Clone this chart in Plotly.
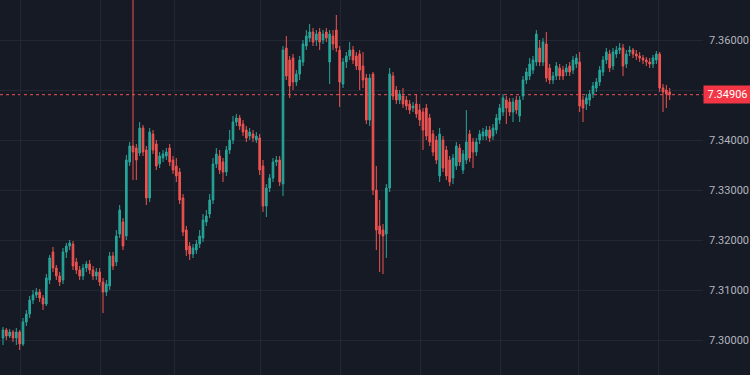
import plotly.graph_objects as go

bar_index = list(range(201))

opens = [
    7.3004, 7.3020, 7.3008, 7.3016, 7.3004, 7.3016, 7.2992, 7.3036, 7.3052, 7.3080,
    7.3090, 7.3096, 7.3084, 7.3072, 7.3120, 7.3176, 7.3144, 7.3128, 7.3120, 7.3176,
    7.3188, 7.3192, 7.3156, 7.3140, 7.3128, 7.3144, 7.3152, 7.3140, 7.3128, 7.3136,
    7.3116, 7.3096, 7.3108, 7.3168, 7.3156, 7.3212, 7.3236, 7.3208, 7.3356, 7.3388,
    7.3384, 7.3374, 7.3424, 7.3380, 7.3284, 7.3412, 7.3392, 7.3352, 7.3364, 7.3368,
    7.3384, 7.3360, 7.3348, 7.3336, 7.3284, 7.3220, 7.3188, 7.3172, 7.3180, 7.3192,
    7.3204, 7.3236, 7.3252, 7.3280, 7.3352, 7.3368, 7.3356, 7.3336, 7.3380, 7.3400,
    7.3436, 7.3444, 7.3432, 7.3420, 7.3408, 7.3412, 7.3400, 7.3404, 7.3348, 7.3268,
    7.3304, 7.3324, 7.3356, 7.3360, 7.3312, 7.3584, 7.3560, 7.3564, 7.3516, 7.3532,
    7.3556, 7.3588, 7.3604, 7.3616, 7.3600, 7.3616, 7.3600, 7.3616, 7.3556, 7.3608,
    7.3620, 7.3580, 7.3512, 7.3556, 7.3568, 7.3580, 7.3568, 7.3572, 7.3548, 7.3524,
    7.3440, 7.3532, 7.3300, 7.3228, 7.3220, 7.3212, 7.3304, 7.3528, 7.3500, 7.3480,
    7.3488, 7.3480, 7.3472, 7.3464, 7.3472, 7.3460, 7.3456, 7.3464, 7.3444, 7.3412,
    7.3400, 7.3328, 7.3400, 7.3380, 7.3360, 7.3324, 7.3348, 7.3384, 7.3340, 7.3360,
    7.3412, 7.3396, 7.3376, 7.3400, 7.3408, 7.3408, 7.3420, 7.3408, 7.3420, 7.3440,
    7.3456, 7.3480, 7.3476, 7.3456, 7.3480, 7.3448, 7.3488, 7.3520, 7.3528, 7.3540,
    7.3556, 7.3584, 7.3556, 7.3592, 7.3544, 7.3520, 7.3528, 7.3544, 7.3540, 7.3536,
    7.3548, 7.3540, 7.3552, 7.3556, 7.3480, 7.3472, 7.3480, 7.3492, 7.3504, 7.3516,
    7.3536, 7.3560, 7.3572, 7.3548, 7.3572, 7.3580, 7.3584, 7.3552, 7.3576, 7.3580,
    7.3572, 7.3568, 7.3564, 7.3560, 7.3556, 7.3552, 7.3560, 7.3572, 7.3504, 7.3500,
    7.3496,
]

highs = [
    7.3026, 7.3024, 7.3022, 7.3020, 7.3024, 7.3020, 7.3044, 7.3060, 7.3088, 7.3100,
    7.3104, 7.3102, 7.3090, 7.3132, 7.3170, 7.3186, 7.3150, 7.3136, 7.3184, 7.3194,
    7.3200, 7.3198, 7.3164, 7.3148, 7.3152, 7.3158, 7.3160, 7.3148, 7.3144, 7.3144,
    7.3124, 7.3120, 7.3176, 7.3176, 7.3220, 7.3270, 7.3244, 7.3370, 7.3396, 7.3800,
    7.3392, 7.3436, 7.3430, 7.3388, 7.3424, 7.3420, 7.3400, 7.3376, 7.3380, 7.3384,
    7.3392, 7.3368, 7.3364, 7.3344, 7.3292, 7.3228, 7.3196, 7.3192, 7.3200, 7.3220,
    7.3252, 7.3260, 7.3292, 7.3364, 7.3384, 7.3380, 7.3364, 7.3388, 7.3420, 7.3448,
    7.3452, 7.3450, 7.3440, 7.3428, 7.3424, 7.3420, 7.3416, 7.3412, 7.3360, 7.3312,
    7.3332, 7.3364, 7.3368, 7.3368, 7.3588, 7.3608, 7.3568, 7.3572, 7.3540, 7.3568,
    7.3600, 7.3620, 7.3632, 7.3624, 7.3620, 7.3624, 7.3620, 7.3624, 7.3620, 7.3620,
    7.3650, 7.3588, 7.3564, 7.3576, 7.3596, 7.3588, 7.3576, 7.3580, 7.3576, 7.3532,
    7.3532, 7.3536, 7.3348, 7.3280, 7.3232, 7.3312, 7.3544, 7.3536, 7.3508, 7.3500,
    7.3504, 7.3488, 7.3480, 7.3476, 7.3492, 7.3472, 7.3464, 7.3472, 7.3452, 7.3420,
    7.3408, 7.3424, 7.3408, 7.3388, 7.3368, 7.3372, 7.3396, 7.3392, 7.3380, 7.3460,
    7.3420, 7.3404, 7.3404, 7.3420, 7.3424, 7.3428, 7.3428, 7.3432, 7.3452, 7.3472,
    7.3492, 7.3488, 7.3484, 7.3484, 7.3488, 7.3488, 7.3528, 7.3544, 7.3564, 7.3568,
    7.3620, 7.3600, 7.3604, 7.3616, 7.3552, 7.3536, 7.3556, 7.3552, 7.3548, 7.3552,
    7.3556, 7.3568, 7.3572, 7.3576, 7.3488, 7.3492, 7.3500, 7.3516, 7.3524, 7.3548,
    7.3568, 7.3584, 7.3580, 7.3584, 7.3588, 7.3594, 7.3592, 7.3580, 7.3588, 7.3584,
    7.3580, 7.3576, 7.3570, 7.3566, 7.3564, 7.3570, 7.3578, 7.3576, 7.3512, 7.3510,
    7.3504,
]

lows = [
    7.2990, 7.3000, 7.3004, 7.2996, 7.2990, 7.2980, 7.2988, 7.3028, 7.3044, 7.3072,
    7.3084, 7.3076, 7.3060, 7.3068, 7.3112, 7.3136, 7.3120, 7.3108, 7.3112, 7.3164,
    7.3180, 7.3140, 7.3132, 7.3120, 7.3120, 7.3136, 7.3132, 7.3120, 7.3120, 7.3108,
    7.3054, 7.3088, 7.3100, 7.3140, 7.3148, 7.3204, 7.3180, 7.3200, 7.3348, 7.3320,
    7.3320, 7.3368, 7.3368, 7.3270, 7.3276, 7.3372, 7.3340, 7.3344, 7.3356, 7.3360,
    7.3348, 7.3332, 7.3316, 7.3272, 7.3208, 7.3168, 7.3160, 7.3164, 7.3172, 7.3184,
    7.3196, 7.3228, 7.3244, 7.3272, 7.3344, 7.3332, 7.3316, 7.3328, 7.3372, 7.3392,
    7.3428, 7.3420, 7.3408, 7.3396, 7.3400, 7.3396, 7.3394, 7.3330, 7.3256, 7.3246,
    7.3296, 7.3316, 7.3348, 7.3308, 7.3288, 7.3520, 7.3484, 7.3500, 7.3508, 7.3520,
    7.3548, 7.3580, 7.3596, 7.3588, 7.3588, 7.3580, 7.3592, 7.3596, 7.3512, 7.3580,
    7.3576, 7.3466, 7.3504, 7.3544, 7.3560, 7.3552, 7.3540, 7.3500, 7.3504, 7.3432,
    7.3428, 7.3290, 7.3180, 7.3136, 7.3132, 7.3164, 7.3296, 7.3480, 7.3472, 7.3472,
    7.3464, 7.3460, 7.3452, 7.3456, 7.3444, 7.3428, 7.3380, 7.3400, 7.3388, 7.3368,
    7.3352, 7.3316, 7.3336, 7.3320, 7.3308, 7.3312, 7.3340, 7.3348, 7.3332, 7.3352,
    7.3356, 7.3344, 7.3368, 7.3392, 7.3400, 7.3400, 7.3396, 7.3400, 7.3412, 7.3432,
    7.3448, 7.3432, 7.3448, 7.3436, 7.3452, 7.3436, 7.3480, 7.3512, 7.3520, 7.3532,
    7.3548, 7.3548, 7.3548, 7.3516, 7.3512, 7.3512, 7.3520, 7.3520, 7.3520, 7.3528,
    7.3528, 7.3532, 7.3544, 7.3456, 7.3436, 7.3460, 7.3468, 7.3484, 7.3496, 7.3508,
    7.3528, 7.3552, 7.3536, 7.3540, 7.3564, 7.3572, 7.3528, 7.3544, 7.3568, 7.3564,
    7.3560, 7.3556, 7.3552, 7.3548, 7.3544, 7.3544, 7.3552, 7.3496, 7.3456, 7.3464,
    7.3480,
]

closes = [
    7.3020, 7.3008, 7.3016, 7.3004, 7.3016, 7.2992, 7.3036, 7.3052, 7.3080, 7.3090,
    7.3096, 7.3084, 7.3072, 7.3124, 7.3164, 7.3144, 7.3128, 7.3116, 7.3176, 7.3188,
    7.3194, 7.3148, 7.3140, 7.3128, 7.3144, 7.3152, 7.3140, 7.3128, 7.3136, 7.3116,
    7.3096, 7.3112, 7.3168, 7.3148, 7.3208, 7.3260, 7.3188, 7.3360, 7.3388, 7.3376,
    7.3360, 7.3424, 7.3376, 7.3284, 7.3416, 7.3380, 7.3348, 7.3368, 7.3372, 7.3376,
    7.3356, 7.3340, 7.3328, 7.3280, 7.3216, 7.3180, 7.3172, 7.3184, 7.3192, 7.3208,
    7.3240, 7.3248, 7.3280, 7.3352, 7.3372, 7.3340, 7.3336, 7.3380, 7.3400, 7.3436,
    7.3444, 7.3428, 7.3416, 7.3404, 7.3416, 7.3404, 7.3408, 7.3340, 7.3268, 7.3304,
    7.3324, 7.3356, 7.3360, 7.3316, 7.3580, 7.3528, 7.3508, 7.3516, 7.3532, 7.3560,
    7.3592, 7.3608, 7.3616, 7.3596, 7.3612, 7.3596, 7.3612, 7.3604, 7.3612, 7.3592,
    7.3584, 7.3516, 7.3556, 7.3568, 7.3580, 7.3560, 7.3548, 7.3540, 7.3520, 7.3440,
    7.3524, 7.3300, 7.3220, 7.3212, 7.3208, 7.3304, 7.3532, 7.3488, 7.3480, 7.3492,
    7.3472, 7.3468, 7.3460, 7.3468, 7.3452, 7.3440, 7.3420, 7.3408, 7.3396, 7.3376,
    7.3360, 7.3412, 7.3344, 7.3328, 7.3316, 7.3364, 7.3388, 7.3356, 7.3372, 7.3396,
    7.3364, 7.3376, 7.3396, 7.3412, 7.3416, 7.3420, 7.3404, 7.3424, 7.3444, 7.3464,
    7.3484, 7.3464, 7.3456, 7.3476, 7.3460, 7.3480, 7.3520, 7.3536, 7.3552, 7.3560,
    7.3612, 7.3556, 7.3596, 7.3524, 7.3520, 7.3528, 7.3548, 7.3528, 7.3528, 7.3544,
    7.3536, 7.3560, 7.3564, 7.3468, 7.3464, 7.3484, 7.3492, 7.3508, 7.3516, 7.3540,
    7.3560, 7.3576, 7.3544, 7.3576, 7.3580, 7.3584, 7.3548, 7.3572, 7.3580, 7.3572,
    7.3568, 7.3564, 7.3560, 7.3556, 7.3552, 7.3564, 7.3572, 7.3504, 7.3496, 7.3492,
    7.34906,
]

time_grid_bars = [5.1, 29.1, 51.5, 77.2, 101.2, 125.2, 149.2, 172.7, 196.7]
price_ticks = [7.30, 7.31, 7.32, 7.33, 7.34, 7.35, 7.36]
last_price = 7.34906

BG = "#161a25"
GRID = "#232734"
UP = "#26a69a"
DOWN = "#ef5350"

fig = go.Figure(
    go.Candlestick(
        x=bar_index, open=opens, high=highs, low=lows, close=closes,
        increasing=dict(line=dict(color=UP, width=1), fillcolor=UP),
        decreasing=dict(line=dict(color=DOWN, width=1), fillcolor=DOWN),
        whiskerwidth=0,
        hoverinfo="skip",
    )
)

fig.add_shape(
    type="line", xref="paper", x0=0, x1=1, yref="y", y0=last_price, y1=last_price,
    line=dict(color=DOWN, width=1, dash="dot"), layer="below",
)

fig.add_annotation(
    xref="paper", x=1, xanchor="left", xshift=0,
    yref="y", y=last_price, yanchor="middle",
    text=f"{last_price:.5f}", showarrow=False,
    font=dict(family="Roboto", size=11, color="#ffffff"),
    bgcolor="#f23645", width=45, height=15, borderpad=1, align="center",
)

fig.update_layout(
    width=750, height=375,
    margin=dict(l=0, r=47, t=0, b=0),
    paper_bgcolor=BG, plot_bgcolor=BG,
    showlegend=False,
    xaxis=dict(
        range=[-0.9, 210], rangeslider=dict(visible=False),
        tickvals=time_grid_bars, showticklabels=False, ticks="",
        showgrid=True, gridcolor=GRID, gridwidth=1, zeroline=False, showline=False,
    ),
    yaxis=dict(
        side="right", range=[7.293, 7.368], tickvals=price_ticks, tickformat=".5f",
        showgrid=True, gridcolor=GRID, gridwidth=1, zeroline=False, showline=False,
        ticks="", ticklabelstandoff=5,
        tickfont=dict(family="Roboto", size=11, color="#b2b5be"),
    ),
)

fig.write_html(
    "out.html",
    config={"displayModeBar": False},
    post_script="document.body.style.margin='0';document.body.style.background='#161a25';",
)
